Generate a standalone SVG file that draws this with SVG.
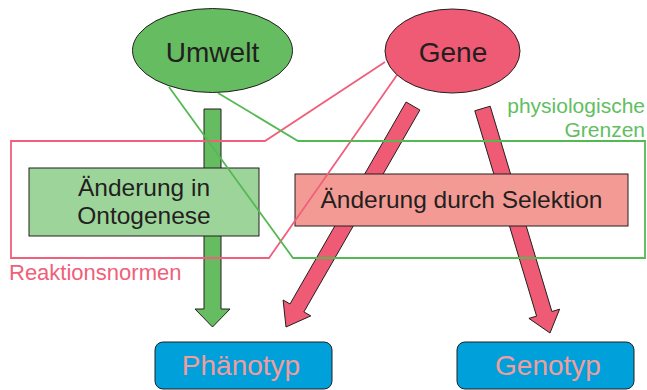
<svg xmlns="http://www.w3.org/2000/svg" width="647" height="390" viewBox="0 0 647 390">
<style>
.t{font-family:"Liberation Sans",Arial,Helvetica,sans-serif;fill:#231f20}
.big{font-size:28px}
.mid{font-size:24.5px}
.sm{font-size:22px}
.gr{font-size:21px;fill:#62be5f}
.edge{stroke:#231f20;stroke-width:1}
.reg{fill:none;stroke-width:1.8;stroke-linejoin:miter}
</style>
<rect width="647" height="390" fill="#ffffff"/>
<g id="connectors">
<polygon class="edge" fill="#66bc61" points="204,109 221,109 221,309 230,309 212.5,327 195,309 204,309"/>
<polygon class="edge" fill="#ef5a74" points="406.1,102 419.9,110 303.9,311.9 310.8,315.9 286,327 283.1,300 290,304"/>
<polygon class="edge" fill="#ef5a74" points="474.8,110.8 490.2,106.2 551.9,311.5 559.6,309.2 550,333 528.9,318.4 536.6,316.1"/>
</g>
<g id="ontogenese">
<rect class="edge" x="29" y="168" width="230" height="68" fill="#9dd49a"/>
<text class="t mid" x="144" y="196" text-anchor="middle">Änderung in</text>
<text class="t mid" x="144" y="224" text-anchor="middle">Ontogenese</text>
</g>
<g id="selektion">
<rect class="edge" x="295" y="174" width="333" height="52" fill="#f49a94"/>
<text class="t mid" x="461.5" y="208" text-anchor="middle">Änderung durch Selektion</text>
</g>
<g id="reaktionsnormen">
<polyline class="reg" stroke="#f0607a" points="385,62 265,141 11,141 11,258 269,258 397,75"/>
<text class="t sm" x="9" y="280" style="fill:#f0607a">Reaktionsnormen</text>
</g>
<g id="grenzen">
<polyline class="reg" stroke="#55b953" points="218,93 298,141 645,141 645,258 293,258 169,87"/>
<text class="t gr" x="645" y="113" text-anchor="end">physiologische</text>
<text class="t gr" x="645" y="137" text-anchor="end">Grenzen</text>
</g>
<g id="umwelt">
<ellipse class="edge" cx="212.5" cy="50.5" rx="80" ry="42" fill="#66bc61"/>
<text class="t big" x="212.5" y="62" text-anchor="middle">Umwelt</text>
</g>
<g id="gene">
<ellipse class="edge" cx="452.5" cy="51" rx="67.5" ry="42" fill="#ef5a74"/>
<text class="t big" x="453" y="62" text-anchor="middle">Gene</text>
</g>
<g id="phaenotyp">
<rect class="edge" x="155" y="342" width="177" height="47" rx="8" fill="#00a0db"/>
<text class="t big" x="241" y="375" text-anchor="middle" style="fill:#f29c9c">Phänotyp</text>
</g>
<g id="genotyp">
<rect class="edge" x="457" y="342" width="177" height="47" rx="8" fill="#00a0db"/>
<text class="t big" x="548" y="375" text-anchor="middle" style="fill:#f29c9c">Genotyp</text>
</g>
</svg>
